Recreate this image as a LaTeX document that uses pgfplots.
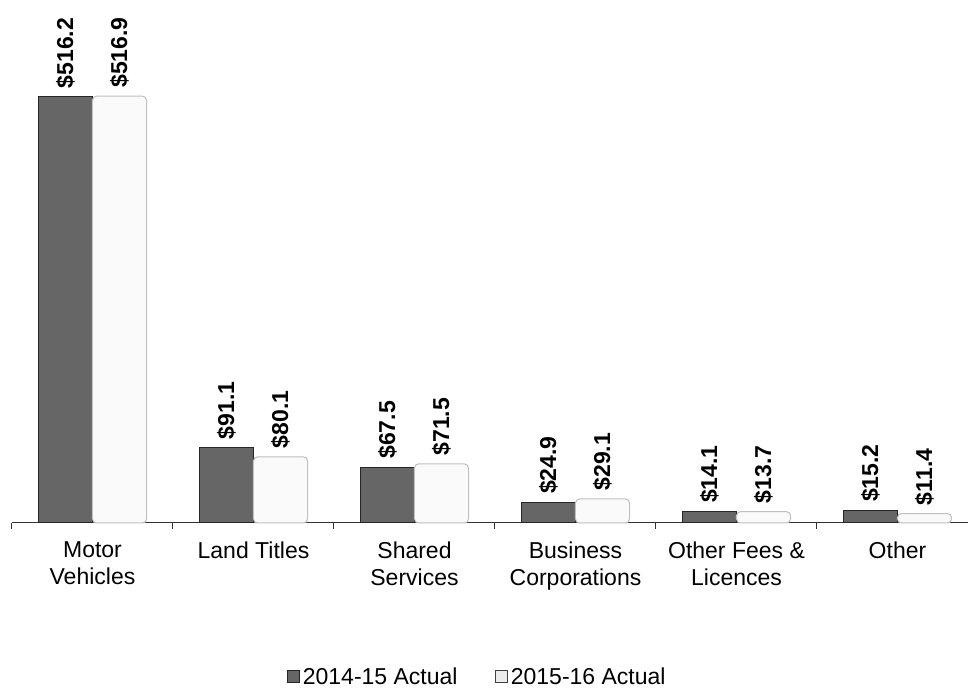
\documentclass[border=0pt]{standalone}
\usepackage{pgfplots}
\pgfplotsset{compat=1.18}
\usepackage{fontspec}
\setmainfont{Liberation Sans}

\definecolor{darkbar}{HTML}{666666}
\definecolor{darkedge}{HTML}{262626}
\definecolor{lightbar}{HTML}{FAFAFA}
\definecolor{lightedge}{HTML}{BFBFBF}

\newcommand{\chartfont}{\fontsize{17.25}{20.25}\selectfont}

\begin{document}
\begin{tikzpicture}
\begin{axis}[
  at={(0pt,0pt)}, anchor=south west,
  scale only axis,
  width=724.5pt, height=392.25pt,
  xmin=-0.5, xmax=5.5, ymin=0, ymax=633.3,
  clip=false,
  ybar=0pt, bar width=40.5pt,
  axis x line*=bottom,
  hide y axis,
  x axis line style={color=black!80, line width=0.75pt},
  xtick={0,...,5},
  xticklabels={{Motor\\Vehicles},{Land Titles},{Shared\\Services},{Business\\Corporations},{Other Fees \&\\Licences},{Other}},
  major x tick style={draw=none},
  minor xtick={-0.5,0.5,1.5,2.5,3.5,4.5},
  minor x tick style={color=black!80, line width=0.75pt},
  minor tick length=4.5pt,
  tick align=outside,
  xticklabel style={align=center, font=\chartfont, yshift=-6.5pt},
  /pgf/number format/assume math mode=true,
  nodes near coords={\$\pgfmathprintnumber[fixed,precision=1,fixed zerofill,assume math mode=true]{\pgfplotspointmeta}},
  every node near coord/.append style={rotate=90, anchor=west, font=\chartfont\bfseries, color=black, inner sep=6pt},
  legend columns=2,
  legend style={
    at={(axis description cs:0.482,-0.294)}, anchor=center,
    draw=none, fill=none, font=\chartfont,
    /tikz/every even column/.append style={column sep=26pt},
  },
]
\addplot[fill=darkbar, draw=darkedge, line width=0.75pt,
  legend image code/.code={\draw[sharp corners, fill=darkbar, draw=darkedge, line width=0.75pt] (0pt,-4.6pt) rectangle (9.2pt,4.6pt);}]
  coordinates {(0,516.2) (1,91.1) (2,67.5) (3,24.9) (4,14.1) (5,15.2)};
\addlegendentry{2014-15 Actual}
\addplot[fill=lightbar, draw=lightedge, line width=0.75pt, rounded corners=3pt,
  legend image code/.code={\draw[sharp corners, fill=black!8, draw=black!75, line width=0.75pt] (0pt,-4.6pt) rectangle (9.2pt,4.6pt);}]
  coordinates {(0,516.9) (1,80.1) (2,71.5) (3,29.1) (4,13.7) (5,11.4)};
\addlegendentry{2015-16 Actual}
\end{axis}
\pgfresetboundingbox
\path[use as bounding box] (-9pt,-123.75pt) rectangle (717pt,392.25pt);
\end{tikzpicture}
\end{document}
